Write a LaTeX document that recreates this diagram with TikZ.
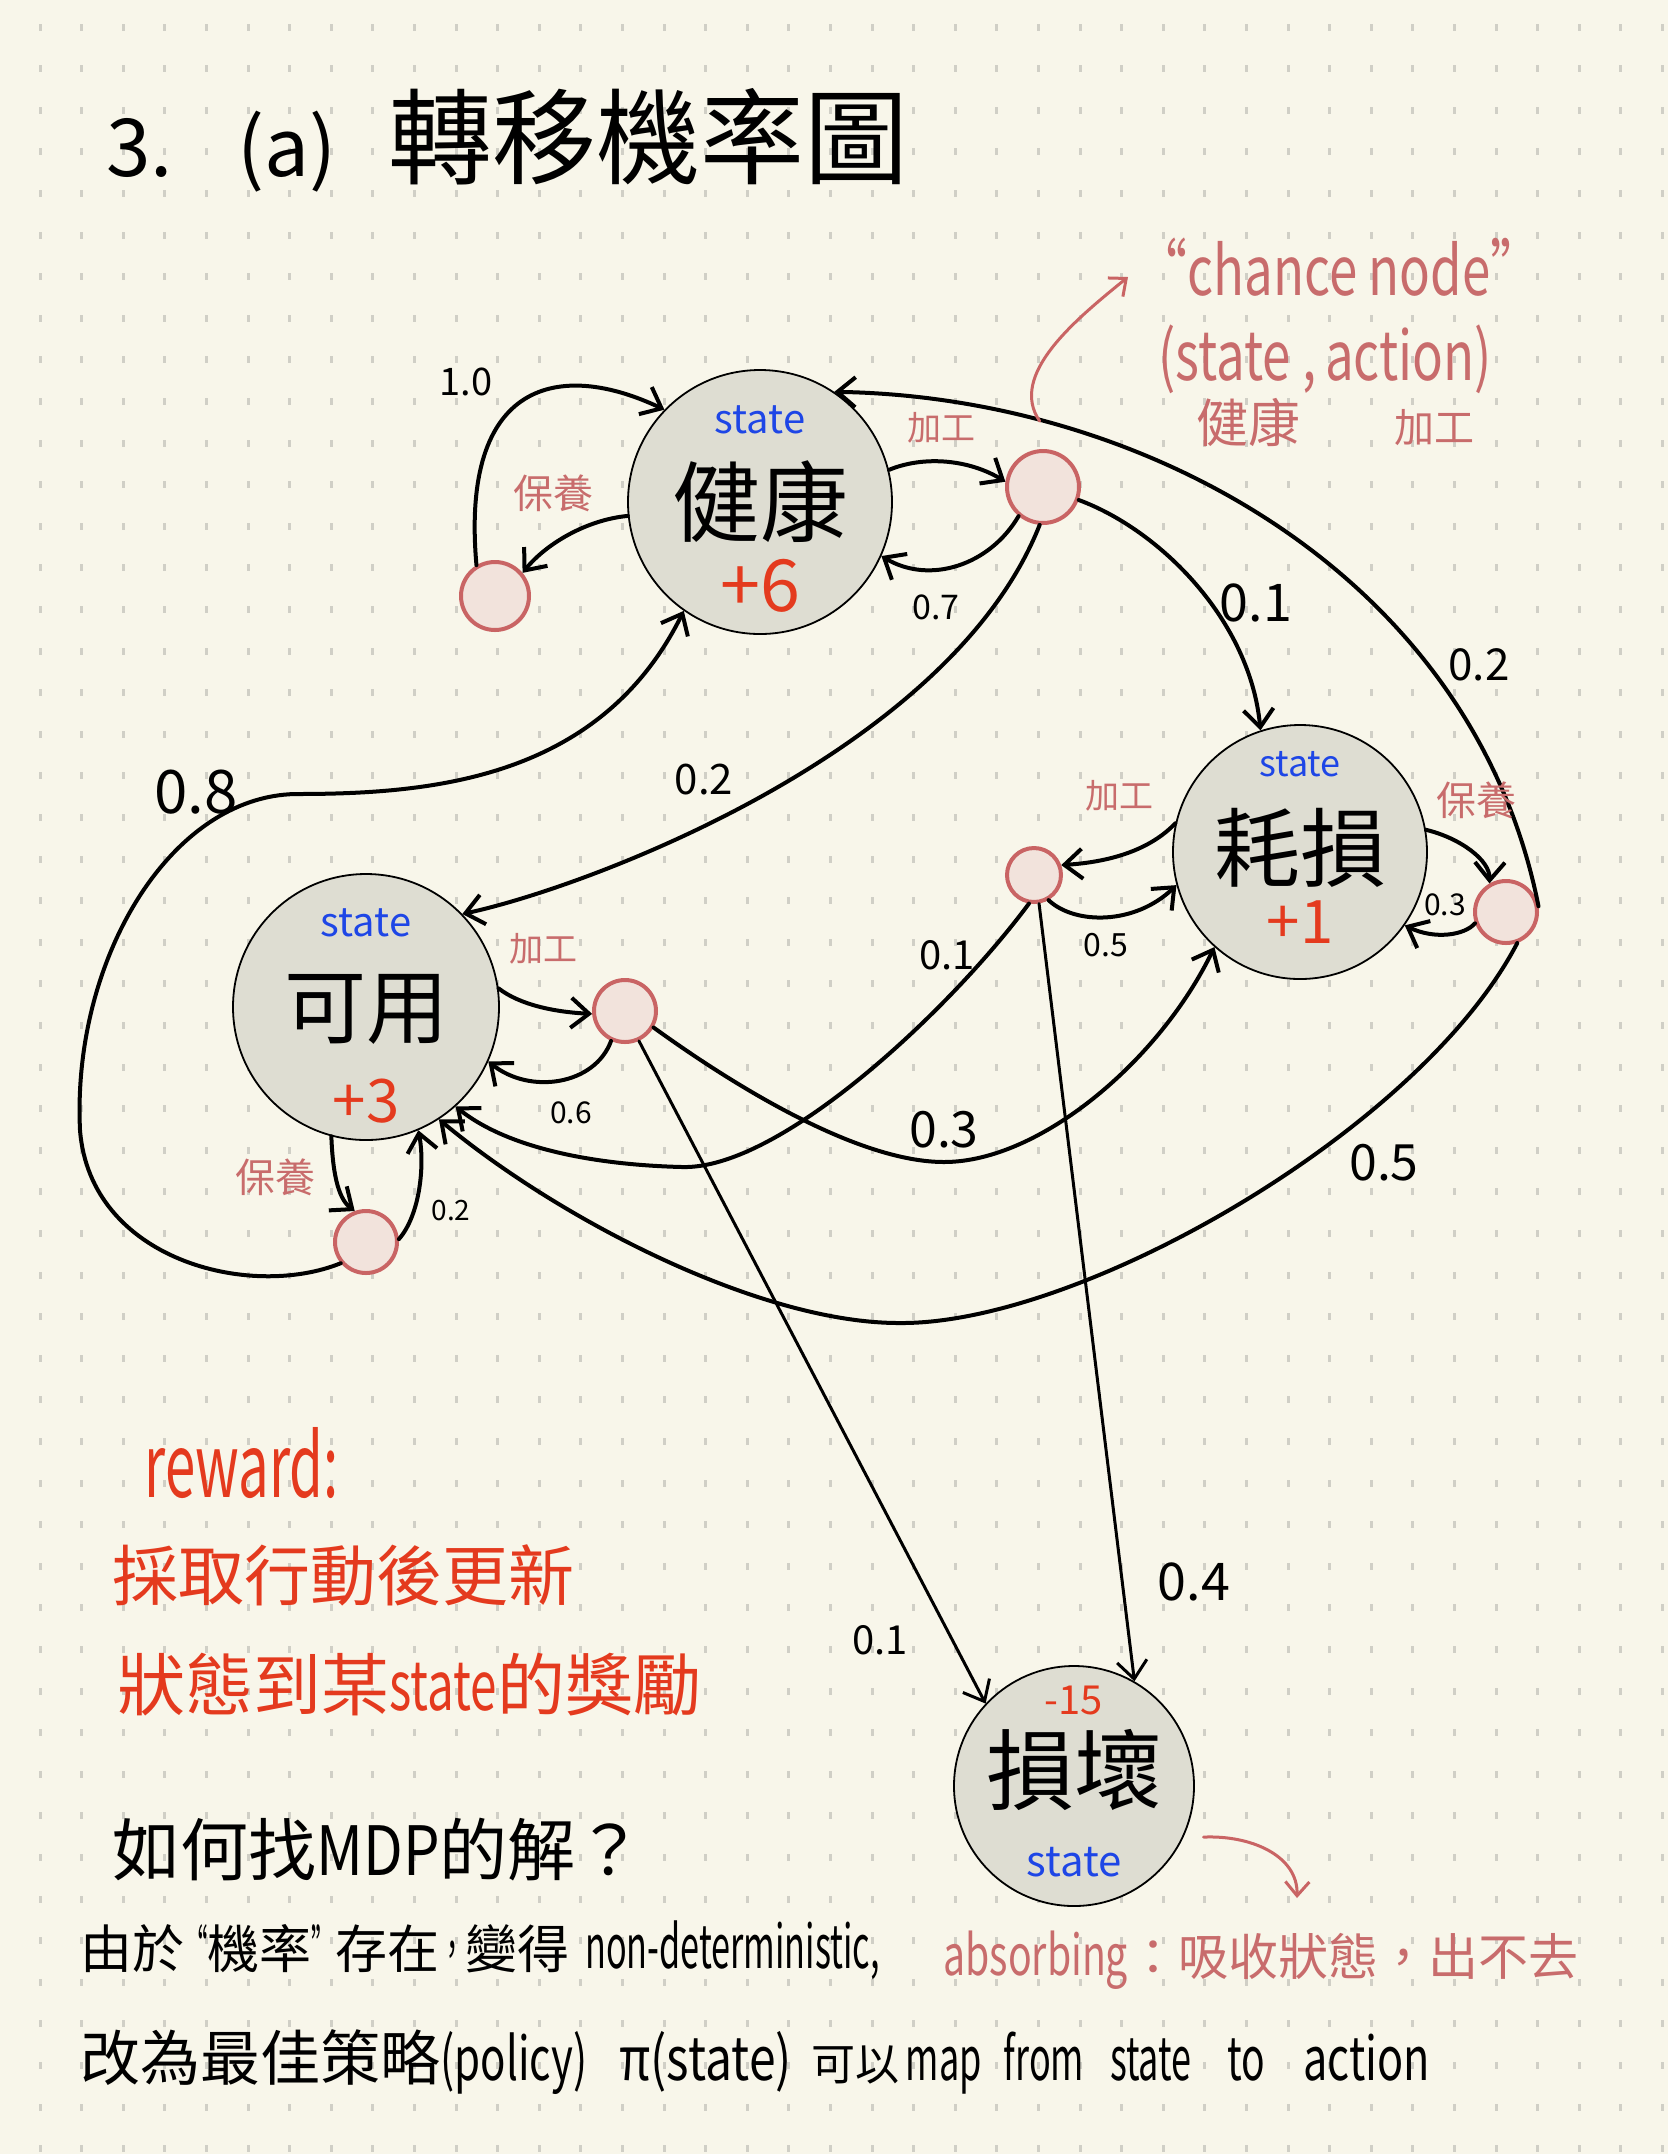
\documentclass[tikz,border=0pt]{standalone}
\usepackage{fontspec}
\setmainfont{Noto Sans CJK TC}
\usetikzlibrary{arrows.meta,calc}
\definecolor{paper}{RGB}{248,246,234}
\definecolor{gridc}{RGB}{208,207,198}
\definecolor{statefill}{RGB}{222,221,210}
\definecolor{chfill}{RGB}{242,227,220}
\definecolor{chdraw}{RGB}{201,100,100}
\definecolor{pinkt}{RGB}{200,108,108}
\definecolor{redt}{RGB}{228,58,30}
\definecolor{bluet}{RGB}{30,70,230}
\newcommand\fsz[1]{\fontsize{#1}{#1}\selectfont}
\newcommand\cnd[2][0.65]{\scalebox{#1}[1]{#2}}
\begin{document}
\begin{tikzpicture}[x=0.5pt,y=0.5pt,
  stnode/.style={circle,draw=black,line width=0.9pt,fill=statefill,minimum size=#1,inner sep=0pt},
  chnode/.style={circle,draw=chdraw,line width=2pt,fill=chfill,minimum size=#1,inner sep=0pt},
  arr/.style={-{Straight Barb[length=9pt,width=15pt]},line width=2pt,line cap=round},
  thinarr/.style={arr,line width=1.5pt},
  pinkarr/.style={-{Straight Barb[length=7pt,width=12pt]},draw=chdraw,line width=1.5pt,line cap=round},
  prob/.style={font=\fsz{#1},inner sep=0pt},
  act/.style={font=\fsz{#1},text=pinkt,inner sep=0pt},
  txt/.style={inner sep=0pt}
]
\fill[paper] (0,0) rectangle (1668,-2154);
\useasboundingbox (0,0) rectangle (1668,-2154);
\foreach \i in {0,...,39}{\foreach \j in {0,...,51}{\fill[gridc] ({38.5+41.6*\i},{-30.5-41.6*\j}) rectangle ++(3,7);}}

% ---- title
\node[txt,anchor=west] (title) at (106,-140) {\fsz{40}3.\hspace{32pt}(a)\hspace{26pt}\fsz{52}轉移機率圖};

% ---- state nodes
\node[stnode=132pt] (H) at (760,-502) {};
\node[stnode=127pt] (W) at (1300,-852) {};
\node[stnode=133pt] (A) at (366,-1007) {};
\node[stnode=120pt] (B) at (1074,-1786) {};

\node[txt,font=\fsz{20},text=bluet] (Hs) at ([yshift=41pt]H.center) {state};
\node[txt,font=\fsz{44}] (Hn) at (H.center) {健康};
\node[txt,font=\fsz{36},text=redt] (Hr) at ([yshift=-42pt]H.center) {+6};

\node[txt,font=\fsz{18},text=bluet] (Ws) at ([yshift=44pt]W.center) {state};
\node[txt,font=\fsz{43}] (Wn) at ([yshift=2pt]W.center) {耗損};
\node[txt,font=\fsz{30},text=redt] (Wr) at ([yshift=-35pt]W.center) {+1};

\node[txt,font=\fsz{20},text=bluet] (As) at ([yshift=42pt]A.center) {state};
\node[txt,font=\fsz{41}] (An) at ([yshift=-1pt]A.center) {可用};
\node[txt,font=\fsz{30},text=redt] (Ar) at ([yshift=-47pt]A.center) {+3};

\node[txt,font=\fsz{20},text=redt] (Br) at ([yshift=43pt]B.center) {-15};
\node[txt,font=\fsz{44}] (Bn) at ([yshift=8pt]B.center) {損壞};
\node[txt,font=\fsz{21},text=bluet] (Bs) at ([yshift=-38pt]B.center) {state};

% ---- chance nodes
\node[chnode=36pt] (hw) at (1043,-487) {};
\node[chnode=34pt] (hm) at (495,-596) {};
\node[chnode=27pt] (ww) at (1034,-875) {};
\node[chnode=31pt] (wm) at (1506,-912) {};
\node[chnode=31pt] (aw) at (625,-1011) {};
\node[chnode=31pt] (am) at (366,-1242) {};

% ---- edges from 健康
\draw[arr] (H.14) .. controls (925,-455) and (970,-460) .. (hw.172);
\draw[arr] (hw.230) .. controls (990,-565) and (930,-585) .. (H.-24);
\draw[arr] (hw.-20) .. controls (1160,-530) and (1250,-620) .. (W.108);
\draw[arr] (hw.-95) .. controls (950,-752) and (588,-887) .. (A.44);
\draw[arr] (H.186) .. controls (585,-520) and (545,-545) .. (hm.40);
\draw[arr] (hm.121) .. controls (460,-380) and (560,-360) .. (H.136);

% ---- edges from 耗損
\draw[arr] (W.167) .. controls (1150,-850) and (1110,-862) .. (ww.20);
\draw[arr] (ww.-60) .. controls (1075,-925) and (1135,-925) .. (W.195);
\draw[arr] (ww.-100) .. controls (950,-1010) and (780,-1170) .. (682,-1167)
   .. controls (600,-1165) and (510,-1150) .. (A.-48);
\draw[thinarr] (ww.-80) -- (B.60);
\draw[arr] (W.10) .. controls (1460,-838) and (1490,-860) .. (wm.120);
\draw[arr] (wm.200) .. controls (1465,-935) and (1435,-940) .. (W.-35);
\draw[arr] (wm.10) .. controls (1473,-576) and (1146,-397) .. (H.56);
\draw[arr] (wm.-70) .. controls (1420,-1130) and (1080,-1325) .. (899,-1323)
   .. controls (760,-1323) and (560,-1220) .. (A.-57);

% ---- edges from 可用
\draw[arr] (A.8) .. controls (520,-1005) and (555,-1012) .. (aw.185);
\draw[arr] (aw.-115) .. controls (595,-1085) and (530,-1095) .. (A.-24);
\draw[arr] (aw.-30) .. controls (740,-1090) and (860,-1162) .. (944,-1162)
   .. controls (1040,-1162) and (1160,-1060) .. (W.228);
\draw[thinarr] (aw.-65) -- (B.137);
\draw[arr] (A.-105) .. controls (333,-1180) and (340,-1200) .. (am.110);
\draw[arr] (am.5) .. controls (420,-1215) and (425,-1165) .. (A.-67);
\draw[arr] (am.-140) .. controls (250,-1300) and (90,-1260) .. (80,-1130)
   .. controls (72,-960) and (170,-796) .. (296,-794)
   .. controls (430,-794) and (600,-780) .. (H.235);

% ---- action labels (pink)
\node[act=17] (lHw) at (941,-428) {加工};
\node[act=20] (lHm) at (553,-493) {保養};
\node[act=17] (lWw) at (1119,-796) {加工};
\node[act=20] (lWm) at (1476,-800) {保養};
\node[act=17] (lAw) at (543,-949) {加工};
\node[act=20] (lAm) at (275,-1177) {保養};

% ---- probability labels
\node[prob=17] (p07) at (936,-607) {0.7};
\node[prob=19] (p10) at (466,-382) {1.0};
\node[prob=26] (pHW) at (1256,-603) {0.1};
\node[prob=21] (pHA) at (704,-780) {0.2};
\node[prob=30] (p08) at (196,-792) {0.8};
\node[prob=16] (pWW) at (1106,-945) {0.5};
\node[prob=15] (pWm) at (1445,-905) {0.3};
\node[prob=22] (pWH) at (1479,-665) {0.2};
\node[prob=15] (p06) at (571,-1113) {0.6};
\node[prob=20] (pWA) at (947,-955) {0.1};
\node[prob=25] (pAW) at (944,-1130) {0.3};
\node[prob=25] (pMA) at (1384,-1163) {0.5};
\node[prob=14] (pAm) at (451,-1210) {0.2};
\node[prob=20] (pAB) at (880,-1640) {0.1};
\node[prob=26] (pWB) at (1194,-1582) {0.4};

% ---- chance node annotation
\coordinate (cnTip) at (1128,-277);
\draw[pinkarr] ([yshift=14pt]hw.95) .. controls (1008,-375) and (1075,-320) .. (cnTip);
\node[txt,anchor=base west,text=pinkt] (cn) at (1136,-295) {\fsz{34}\cnd[0.75]{“chance node”}};
\node[txt,anchor=base west,text=pinkt] (sa) at (1158,-380) {\fsz{34}\cnd[0.75]{(state ,\,action)}};
\node[txt,anchor=west,text=pinkt] (ha) at (1196,-422) {\fsz{26}健康\hspace{47pt}\fsz{20}加工};

% ---- absorbing annotation
\coordinate (absTip) at (1297,-1898);
\draw[pinkarr] ([xshift=10pt]B.-25) .. controls (1250,-1835) and (1298,-1855) .. (absTip);
\node[txt,anchor=west,text=pinkt] (abs) at (943,-1960) {\fsz{28}\cnd[0.7]{absorbing}\fsz{25}：吸收狀態，出不去};

% ---- reward text
\node[txt,anchor=base west,text=redt] (rw) at (144,-1497) {\fsz{44}\cnd[0.62]{reward:}};
\node[txt,anchor=west,text=redt] (r1) at (112,-1575) {\fsz{33}採取行動後更新};
\node[txt,anchor=west,text=redt] (r2) at (117,-1685) {\fsz{34}狀態到某\cnd[0.7]{state}的獎勵};

% ---- bottom black text
\node[txt,anchor=west] (q) at (112,-1850) {\fsz{34}如何找\cnd[0.85]{MDP}的解？};
\node[txt,anchor=west] (nd) at (80,-1950) {\fsz{26}由於\cnd[0.45]{“}機率\cnd[0.45]{”}存在\cnd[0.5]{，}變得\hspace{8pt}\fsz{30}\cnd[0.57]{non-deterministic,}};
\node[txt,anchor=west] (pol) at (80,-2062) {\fsz{30}改為最佳策略\cnd[0.7]{(policy)}\hspace{16pt}\cnd[0.8]{π(state)}\hspace{10pt}{\fsz{22}可以}\hspace{3pt}\cnd[0.6]{map}\hspace{11pt}\cnd[0.6]{from}\hspace{13pt}\cnd[0.6]{state}\hspace{18pt}\cnd[0.65]{to}\hspace{19pt}\cnd[0.72]{action}};
\end{tikzpicture}
\end{document}
